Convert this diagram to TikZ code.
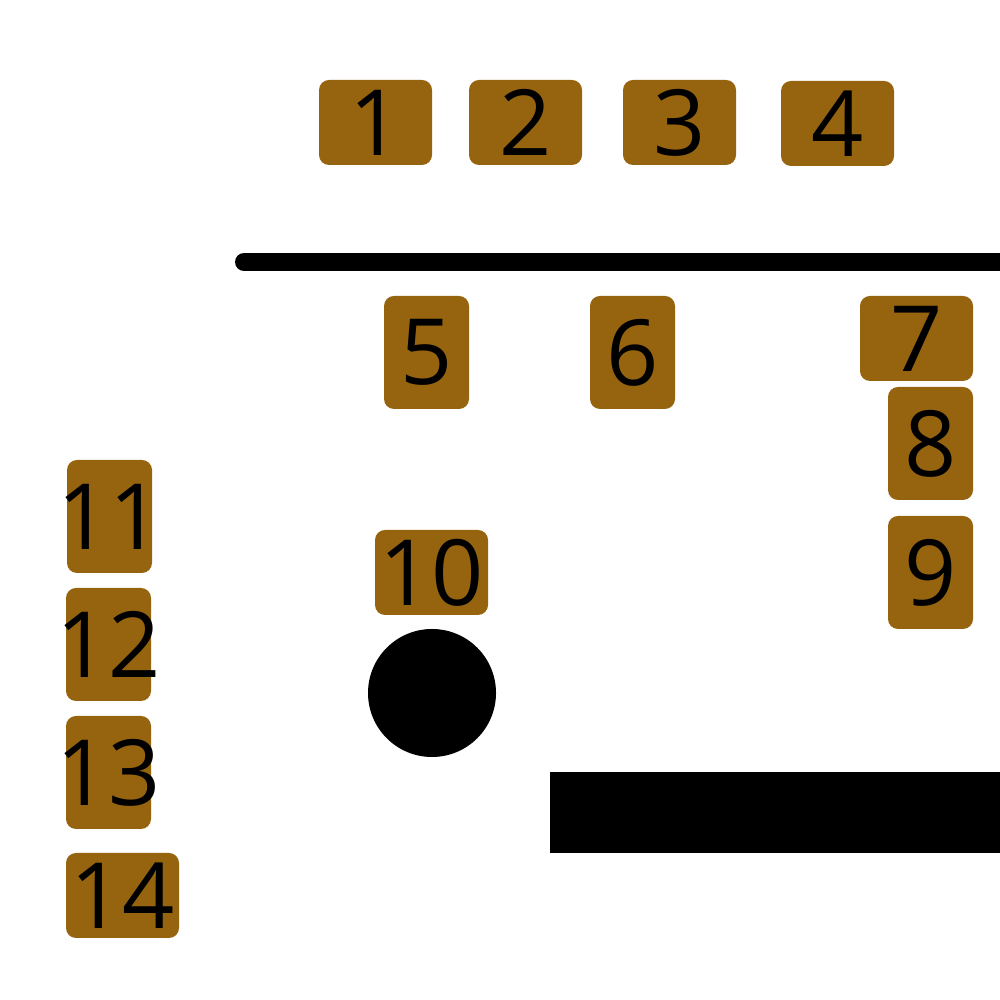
\documentclass[tikz,border=0pt]{standalone}
\usepackage{fontspec}
\setmainfont{Open Sans}
\usepackage{tikz}
\definecolor{tilebrown}{RGB}{150,100,15}

\begin{document}
\begin{tikzpicture}[
  tile/.style={fill=tilebrown,rounded corners=0.1cm,inner sep=0pt,
    font=\fontsize{26}{26}\selectfont},
  wide/.style={tile,minimum width=1.13cm,minimum height=0.85cm},
  tall/.style={tile,minimum width=0.85cm,minimum height=1.13cm}]
\useasboundingbox (0,0) rectangle (10,10);
\fill[white] (0,0) rectangle (10,10);
% top row
\node[wide] (n1) at (3.755,8.775) {1};
\node[wide] (n2) at (5.255,8.775) {2};
\node[wide] (n3) at (6.795,8.775) {3};
\node[wide] (n4) at (8.375,8.765) {4};
% bar
\draw[line width=0.18cm,line cap=round] (2.44,7.38) -- (10.2,7.38);
\node[tall] (n5) at (4.265,6.475) {5};
\node[tall] (n6) at (6.325,6.475) {6};
\node[wide] (n7) at (9.165,6.615) {7};
\node[tall] (n8) at (9.305,5.565) {8};
\node[tall] (n9) at (9.305,4.275) {9};
\node[wide] (n10) at (4.315,4.275) {10};
% left column
\node[tall] (n11) at (1.095,4.835) {\makebox[0pt]{11}};
\node[tall] (n12) at (1.085,3.555) {\makebox[0pt]{12}};
\node[tall] (n13) at (1.085,2.275) {\makebox[0pt]{13}};
\node[wide] (n14) at (1.225,1.045) {14};
% ball and block
\fill (4.32,3.07) circle (0.64);
\fill (5.50,1.47) rectangle (10,2.28);
\end{tikzpicture}
\end{document}
